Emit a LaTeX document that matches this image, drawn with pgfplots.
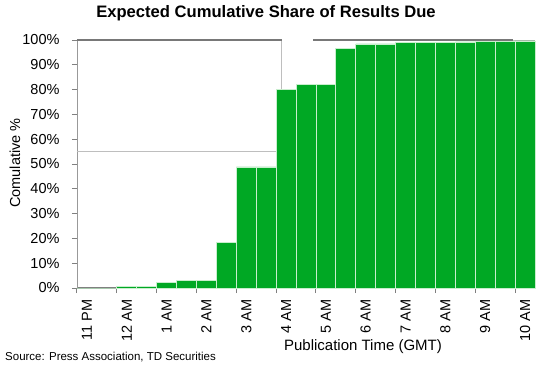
\documentclass[border=0pt]{standalone}
\usepackage{fontspec}
\setmainfont{Liberation Sans}
\usepackage{pgfplots}
\pgfplotsset{compat=1.18}
\definecolor{barg}{RGB}{0,168,36}
\definecolor{edgeg}{RGB}{200,238,205}
\definecolor{topline}{RGB}{120,120,120}
\definecolor{lightl}{RGB}{190,190,190}
\begin{document}
\begin{tikzpicture}
\useasboundingbox (-77pt,-82pt) rectangle (469pt,288pt);
\begin{axis}[
  at={(0pt,0pt)}, anchor=south west,
  scale only axis, width=458pt, height=248pt,
  xmin=-0.5, xmax=22.5, ymin=0, ymax=100,
  clip=false,
  axis lines*=left,
  x axis line style={draw=gray, line width=1.5pt},
  y axis line style={draw=gray!80, line width=0.8pt},
  tick align=outside,
  major tick length=5pt, minor tick length=5pt,
  xtick={0,2,...,22},
  xticklabels={11 PM,12 AM,1 AM,2 AM,3 AM,4 AM,5 AM,6 AM,7 AM,8 AM,9 AM,10 AM},
  minor xtick={-0.5,1.5,...,21.5},
  major x tick style={draw=none},
  minor x tick style={draw=gray, line width=1pt},
  xticklabel style={rotate=90, anchor=east},
  xticklabel shift=3pt,
  ytick={0,10,...,100},
  yticklabels={0\%,10\%,20\%,30\%,40\%,50\%,60\%,70\%,80\%,90\%,100\%},
  ytick style={draw=gray, line width=0.8pt},
  yticklabel shift=9pt,
  tick label style={font=\fontsize{14.5}{16}\selectfont},
  /pgf/number format/assume math mode=true,
  ybar, bar width=1, bar shift=0pt,
]
\draw[lightl, line width=0.8pt] (axis cs:-0.5,55) -- (axis cs:9.5,55);
\draw[lightl, line width=0.8pt] (axis cs:9.78,100) -- (axis cs:9.78,79.9);
\draw[lightl, line width=0.8pt] (axis cs:21.4,100) -- (axis cs:22.45,100) -- (axis cs:22.45,55);
\draw[topline, line width=1.6pt] (axis cs:-0.5,100) -- (axis cs:9.78,100);
\draw[topline, line width=1.6pt] (axis cs:11.37,100) -- (axis cs:21.4,100);
\addplot[fill=barg, draw=edgeg, line width=0.9pt] coordinates {
(0,0) (1,0) (2,0.7) (3,0.7) (4,2.4) (5,3.1) (6,3.1) (7,18.3) (8,48.8) (9,48.8)
(10,79.9) (11,82.1) (12,82.1) (13,96.4) (14,98.4) (15,98.4) (16,99.1) (17,99.1)
(18,99.1) (19,99.2) (20,99.5) (21,99.5) (22,99.6)
};
\end{axis}
\node[font=\bfseries\fontsize{16.6}{19}\selectfont] at (189pt,275pt) {Expected Cumulative Share of Results Due};
\node[rotate=90, font=\fontsize{14.5}{16}\selectfont] at (-62pt,125pt) {Comulative \%};
\node[font=\fontsize{15}{17}\selectfont] at (286pt,-59pt) {Publication Time (GMT)};
\node[anchor=west, inner sep=0pt, font=\fontsize{11.5}{13}\selectfont] at (-72pt,-69pt) {Source: Press Association, TD Securities};
\end{tikzpicture}
\end{document}
